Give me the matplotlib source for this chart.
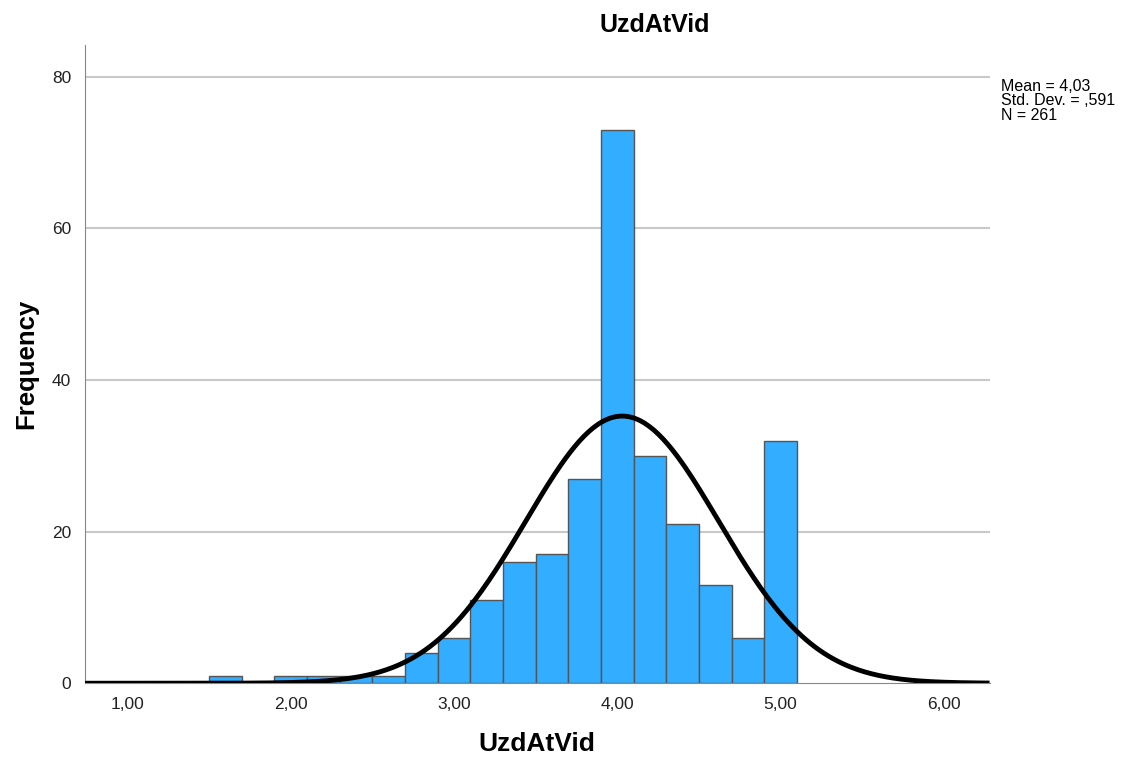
import numpy as np
import matplotlib
matplotlib.use("Agg")
import matplotlib.pyplot as plt

plt.rcParams['font.family'] = ['Liberation Sans', 'DejaVu Sans']

# histogram bins (centres) and counts, bin width 0.2
bin_centers = [1.6, 2.0, 2.2, 2.4, 2.6, 2.8, 3.0, 3.2, 3.4, 3.6, 3.8, 4.0, 4.2, 4.4, 4.6, 4.8, 5.0]
counts = [1, 1, 1, 1, 1, 4, 6, 11, 16, 17, 27, 73, 30, 21, 13, 6, 32]
bin_width = 0.2
mean, std, n = 4.03, 0.591, 261
xticks = [1, 2, 3, 4, 5, 6]
xtick_labels = ['1,00', '2,00', '3,00', '4,00', '5,00', '6,00']
yticks = [0, 20, 40, 60, 80]

fig = plt.figure(figsize=(11.25, 7.6), dpi=100)
ax = fig.add_axes([0.0756, 0.101, 0.804, 0.840])

for y in yticks[1:]:
    ax.axhline(y, color='#c8c8c8', lw=1.5, zorder=0)

ax.bar(bin_centers, counts, width=bin_width, color='#33adff',
       edgecolor='#555555', linewidth=1.0, zorder=2)

xs = np.linspace(0.74, 6.28, 400)
ys = n * bin_width / (std * np.sqrt(2 * np.pi)) * np.exp(-0.5 * ((xs - mean) / std) ** 2)
ax.plot(xs, ys, color='black', lw=3.5, zorder=3, solid_capstyle='butt')

ax.set_xlim(0.74, 6.28)
ax.set_ylim(0, 84.2)
ax.set_xticks(xticks)
ax.set_xticklabels(xtick_labels)
ax.set_yticks(yticks)
ax.tick_params(length=0, labelsize=12.5, colors='#222222', pad=10)

for s in ['top', 'right']:
    ax.spines[s].set_visible(False)
ax.spines['left'].set_color('#888888')
ax.spines['bottom'].set_color('#888888')

fig.text(655 / 1125, 1 - 25 / 760, 'UzdAtVid', fontsize=18, fontweight='bold',
         ha='center', va='center')
ax.set_xlabel('UzdAtVid', fontsize=19, fontweight='bold', labelpad=14)
ax.set_ylabel('Frequency', fontsize=18.5, fontweight='bold', labelpad=10)

fig.text(0.890, 0.896, 'Mean = 4,03\nStd. Dev. = ,591\nN = 261', fontsize=11.5,
         va='top', ha='left', linespacing=0.95)

fig.savefig('out.png', dpi=100)
